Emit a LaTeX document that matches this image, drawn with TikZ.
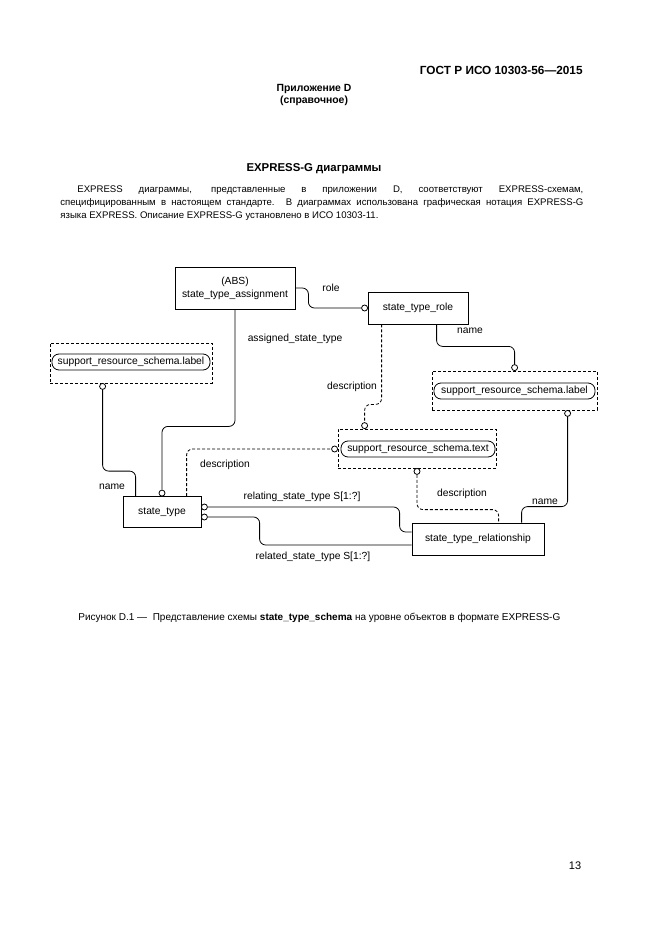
\documentclass[tikz,border=0pt]{standalone}
\usepackage{fontspec}
\setmainfont{Liberation Sans}
\usetikzlibrary{calc}

\begin{document}
\begin{tikzpicture}[x=1pt, y=-1pt, line width=0.8pt,
	every node/.style={font=\fontsize{10.3}{12}\selectfont, inner sep=0pt},
	entity/.style 2 args={draw, minimum width=#1, minimum height=#2, align=center},
	dbox/.style 2 args={draw, dash pattern=on 3pt off 2pt, minimum width=#1, minimum height=#2},
	pill/.style={draw, rounded corners=7pt, minimum height=16pt, minimum width=#1},
	optc/.style={draw, circle, fill=white, minimum size=6pt, inner sep=0pt},
	link/.style={rounded corners=6pt},
	dlink/.style={rounded corners=6pt, dash pattern=on 3pt off 2pt},
	pagetext/.style={font=\fontsize{9.6}{12}\selectfont}]
				\useasboundingbox (0,0) rectangle (661,936);
				% page text
				\node [anchor=east, font=\fontsize{11.8}{14}\selectfont\bfseries] (gost) at (583,70) {ГОСТ Р ИСО 10303-56---2015};
				\node [font=\fontsize{10.4}{12}\selectfont\bfseries] (annex) at (314,89) {Приложение D};
				\node [font=\fontsize{10.4}{12}\selectfont\bfseries] (annexkind) at (314,101) {(справочное)};
				\node [font=\fontsize{11.4}{13}\selectfont\bfseries] (title) at (314,169) {EXPRESS-G диаграммы};
				\node [pagetext, anchor=west] (par_1) at (77,190) {\makebox[506pt][s]{EXPRESS диаграммы, представленные в приложении D, соответствуют EXPRESS-схемам,}};
				\node [pagetext, anchor=west] (par_2) at (60,203) {\makebox[523pt][s]{специфицированным в настоящем стандарте. В диаграммах использована графическая нотация EXPRESS-G}};
				\node [pagetext, anchor=west] (par_3) at (60,216) {языка EXPRESS. Описание EXPRESS-G установлено в ИСО 10303-11.};
				\node [anchor=west, font=\fontsize{10}{12}\selectfont] (caption) at (78,618) {Рисунок D.1 —\ \ Представление схемы \textbf{state\_type\_schema} на уровне объектов в формате EXPRESS-G};
				\node [font=\fontsize{11}{13}\selectfont] (pageno) at (575,866) {13};
				% entities
				\node [entity={120pt}{42pt}] (asg) at (235,288) {(ABS)\\[1pt]state\_type\_assignment};
				\node [entity={100pt}{32pt}] (role) at (418,308) {state\_type\_role};
				\node [entity={78pt}{31pt}] (st) at (162,512) {state\_type};
				\node [entity={132pt}{32pt}] (rel) at (478,539) {state\_type\_relationship};
				% defined types
				\node [dbox={162pt}{40pt}] (ldb) at (131,363) {};
				\node [pill={158pt}] (ltype) at (131,362) {support\_resource\_schema.label};
				\node [dbox={165pt}{39pt}] (rdb) at (514.5,390.5) {};
				\node [pill={161pt}] (rtype) at (514.5,391) {support\_resource\_schema.label};
				\node [dbox={158pt}{39pt}] (tdb) at (417,448.5) {};
				\node [pill={154pt}] (ttype) at (418,449) {support\_resource\_schema.text};
				% circles
				\node [optc] (rolec) at ($(role.west)+(-3,0)$) {};
				\node [optc] (lblc) at ($(ldb.south west)+(53,3)$) {};
				\node [optc] (stc) at ($(st.north)+(0,-3)$) {};
				\node [optc] (txtlc) at ($(tdb.west)+(-3,0.5)$) {};
				\node [optc] (txttc) at ($(tdb.north west)+(27,-3)$) {};
				\node [optc] (txtbc) at ($(tdb.south)+(0,3)$) {};
				\node [optc] (rlc) at ($(rdb.north west)+(83,-3)$) {};
				\node [optc] (rlbc) at ($(rdb.south west)+(136,3)$) {};
				\node [optc] (relc_1) at ($(st.east)+(3,-5)$) {};
				\node [optc] (relc_2) at ($(st.east)+(3,5)$) {};
				% relations
				\draw [link] (asg.east) -- ++(13,0) |- (rolec.west);
				\draw [link] (lblc.south) |- ($(st.north west)+(13,-25)$) -- ($(st.north west)+(13,0)$);
				\draw [link] (stc.north) |- ($(asg.south)+(0,117)$) -- (asg.south);
				\draw [dlink] ($(st.north west)+(64,0)$) |- (txtlc.west);
				\draw [dlink] ($(role.south west)+(14,0)$) -- ++(0,80) -| (txttc.north);
				\draw [link] ($(role.south west)+(69,0)$) -- ++(0,22) -| (rlc.north);
				\draw [link] (rlbc.south) |- ($(rel.north west)+(110,-16)$) -- ($(rel.north west)+(110,0)$);
				\draw [dlink] (txtbc.south) |- ($(rel.north west)+(87,-13)$) -- ($(rel.north west)+(87,0)$);
				\draw [link] (relc_1.east) -| ($(rel.west)+(-12,-7)$) -- ($(rel.west)+(0,-7)$);
				\draw [link] (relc_2.east) -| ($(rel.west)+(-152,6)$) -- ($(rel.west)+(0,6)$);
				% labels
				\node (l_role) at (331,288) {role};
				\node (l_asgst) at (295,339) {assigned\_state\_type};
				\node (l_rname) at (470,331) {name};
				\node (l_rdesc) at (352,387) {description};
				\node (l_sdesc) at (225,465) {description};
				\node (l_sname) at (112,487) {name};
				\node (l_relname) at (545,502) {name};
				\node (l_reldesc) at (462,494) {description};
				\node (l_relating) at (302,497) {relating\_state\_type S[1:?]};
				\node (l_related) at (313,557) {related\_state\_type S[1:?]};
			\end{tikzpicture}
\end{document}
